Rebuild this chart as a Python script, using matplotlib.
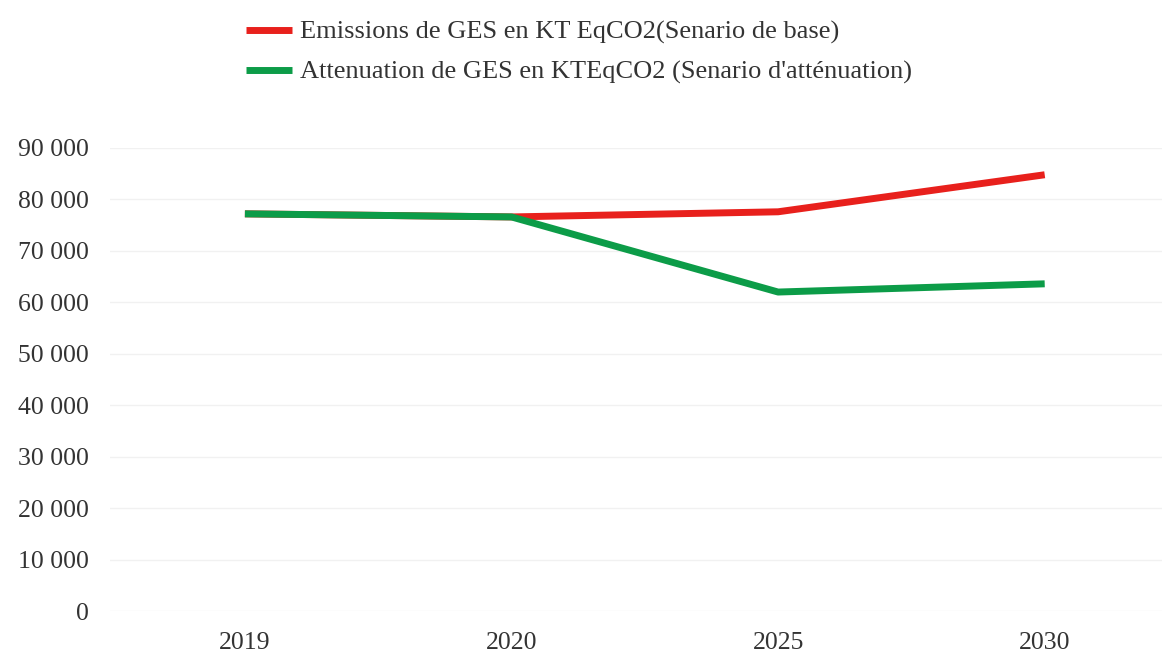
import matplotlib
matplotlib.use("Agg")
import matplotlib.pyplot as plt
from matplotlib.ticker import FuncFormatter

categories = ["2019", "2020", "2025", "2030"]
base_scenario = [77200, 76600, 77600, 84800]
mitigation_scenario = [77200, 76600, 62000, 63600]
series_labels = ["Emissions de GES en KT EqCO2(Senario de base)",
                 "Attenuation de GES en KTEqCO2 (Senario d'atténuation)"]
yticks = [0, 10000, 20000, 30000, 40000, 50000, 60000, 70000, 80000, 90000]

plt.rcParams['font.family'] = ['Liberation Serif', 'DejaVu Serif']
W, H = 1162, 652
fig = plt.figure(figsize=(W / 100, H / 100), dpi=100)
ax = fig.add_axes([110 / W, (H - 611) / H, (W - 110) / W, (611 - 148) / H])

x = list(range(len(categories)))
l1, = ax.plot(x, base_scenario, color="#e8201c", lw=5, solid_capstyle="butt",
              solid_joinstyle="round", label=series_labels[0], zorder=3)
l2, = ax.plot(x, mitigation_scenario, color="#0c9c48", lw=5, solid_capstyle="butt",
              solid_joinstyle="round", label=series_labels[1], zorder=4)

ax.set_xlim(-0.506, 3.44)
ax.set_ylim(0, 90000)
ax.set_xticks(x)
ax.set_xticklabels(categories)
ax.set_yticks(yticks)
ax.yaxis.set_major_formatter(FuncFormatter(lambda v, p: f"{int(v):,}".replace(",", " ")))
ax.tick_params(axis="both", length=0, labelsize=18.5, colors="#333333")
ax.tick_params(axis="y", pad=15)
ax.tick_params(axis="x", pad=15)
ax.grid(axis="y", color="#f1f1f1", lw=1)
for s in ax.spines.values():
    s.set_visible(False)
ax.set_axisbelow(True)

fig.legend(handles=[l1, l2], loc="upper left", bbox_to_anchor=(235 / W, 1 - 10 / H),
           frameon=False, fontsize=19, handlelength=1.75, handletextpad=0.3,
           labelspacing=0.6, labelcolor="#333333", borderaxespad=0)

fig.savefig("out.png", dpi=100, facecolor="white")
